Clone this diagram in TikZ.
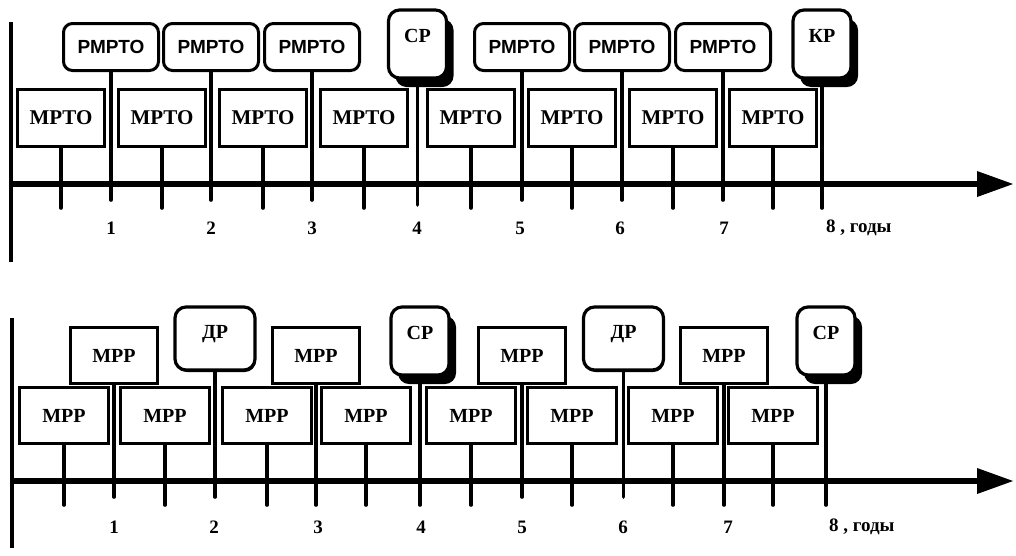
\documentclass[tikz,border=0pt]{standalone}
\usepackage{fontspec}
\setmainfont{Liberation Serif}
\newfontfamily\grotesk{Liberation Sans}
\usetikzlibrary{arrows.meta,shadows}

\begin{document}
\begin{tikzpicture}[x=1pt,y=-1pt,
  every node/.style={inner sep=0pt},
  timeaxis/.style={line width=6.5pt,-{Triangle[length=37pt,width=24pt]}},
  vaxis/.style={line width=3.2pt},
  tickline/.style={line width=3.6pt,line cap=round},
  plainbox/.style={draw,line width=3pt,fill=white,minimum width=87pt,minimum height=57pt,
    font=\fontsize{21}{24}\selectfont\bfseries,
    drop shadow={shadow xshift=-0.8pt,shadow yshift=1.6pt,fill=black,opacity=1}},
  lowbox/.style={plainbox,minimum width=89pt,minimum height=56pt,font=\fontsize{20}{22}\selectfont\bfseries},
  roundbox/.style={draw,line width=3pt,rounded corners=9pt,fill=white,minimum width=95pt,minimum height=47pt,
    font=\grotesk\fontsize{19}{22}\selectfont\bfseries},
  repairbox/.style={draw,line width=3.2pt,rounded corners=11pt,fill=white,text width=58pt,align=center,
    text height=32pt,text depth=36pt,font=\fontsize{20}{22}\selectfont\bfseries,
    drop shadow={shadow xshift=7pt,shadow yshift=-9pt,fill=black,opacity=1}},
  diagbox/.style={draw,line width=3.2pt,rounded corners=11pt,fill=white,text width=80pt,align=center,
    text height=31pt,text depth=32pt,font=\fontsize{20}{22}\selectfont\bfseries,
    drop shadow={shadow xshift=0.8pt,shadow yshift=-2pt,fill=black,opacity=1}},
  yearlabel/.style={font=\fontsize{19}{22}\selectfont\bfseries}
]
\useasboundingbox (0,0) rectangle (1016,555);

% ---------------- upper schedule ----------------
\coordinate (v1a) at (11,22);
\coordinate (v1b) at (11,262);
\coordinate (h1a) at (11,184);
\coordinate (h1b) at (1014,184);
\draw[vaxis] (v1a) -- (v1b);
\draw[timeaxis] (h1a) -- (h1b);

% monthly maintenance boxes between the years
\foreach \x [count=\i] in {61,162,263,364,471,572,673,773} {
  \node[plainbox] (m\i) at (\x,118) {МРТО};
  \coordinate (mt\i) at (\x,208);
  \draw[tickline] (m\i.south) -- (mt\i);
}
% yearly boxes
\foreach \x/\i in {111/1,211/2,312/3,522/5,622/6,723/7} {
  \node[roundbox] (r\i) at (\x,47) {РМРТО};
  \coordinate (rt\i) at (\x,200);
  \draw[tickline] (r\i.south) -- (rt\i);
}
\node[repairbox] (sr1) at (417.5,44) {СР};
\coordinate (srt1) at (417.5,205);
\draw[tickline] (sr1.south) -- (srt1);
\node[repairbox] (kr1) at (822,44) {КР};
\coordinate (krt1) at (822,208);
\draw[tickline] (kr1.south) -- (krt1);

% year labels
\foreach \x/\n in {111/1,211/2,312/3,417/4,520/5,620/6,724/7} {
  \node[yearlabel] (ya\n) at (\x,228) {\n};
}
\node[yearlabel,anchor=west] (ya8) at (826,228) {8 , годы};

% ---------------- lower schedule ----------------
\coordinate (v2a) at (12,318);
\coordinate (v2b) at (12,548);
\coordinate (h2a) at (12,481);
\coordinate (h2b) at (1014,481);
\draw[vaxis] (v2a) -- (v2b);
\draw[timeaxis] (h2a) -- (h2b);

% lower row of monthly repairs
\foreach \x [count=\i] in {64,165,267,366,471,572,673,773} {
  \node[lowbox] (p\i) at (\x,415.5) {МРР};
  \coordinate (pt\i) at (\x,505);
  \draw[tickline] (p\i.south) -- (pt\i);
}
% upper row of monthly repairs
\foreach \x/\i/\e in {114/1/497,316/3/505,522/5/497,724/7/505} {
  \node[lowbox,minimum width=87pt] (q\i) at (\x,355.5) {МРР};
  \coordinate (qt\i) at (\x,\e);
  \draw[tickline] (q\i.south) -- (qt\i);
}
% diagnostic repairs
\node[diagbox] (dr2) at (215,338.5) {ДР};
\coordinate (drt2) at (215,497);
\draw[tickline] (dr2.south) -- (drt2);
\node[diagbox] (dr6) at (623.5,338.5) {ДР};
\coordinate (drt6) at (623.5,497);
\draw[tickline] (dr6.south) -- (drt6);
% medium repairs
\node[repairbox] (sr4) at (420,341) {СР};
\coordinate (srt4) at (420,505);
\draw[tickline] (sr4.south) -- (srt4);
\node[repairbox] (sr8) at (826,341) {СР};
\coordinate (srt8) at (826,505);
\draw[tickline] (sr8.south) -- (srt8);

% year labels
\foreach \x/\n in {114/1,214/2,318/3,421/4,522/5,623/6,728/7} {
  \node[yearlabel] (yb\n) at (\x,527) {\n};
}
\node[yearlabel,anchor=west] (yb8) at (829,527) {8 , годы};

\end{tikzpicture}
\end{document}
